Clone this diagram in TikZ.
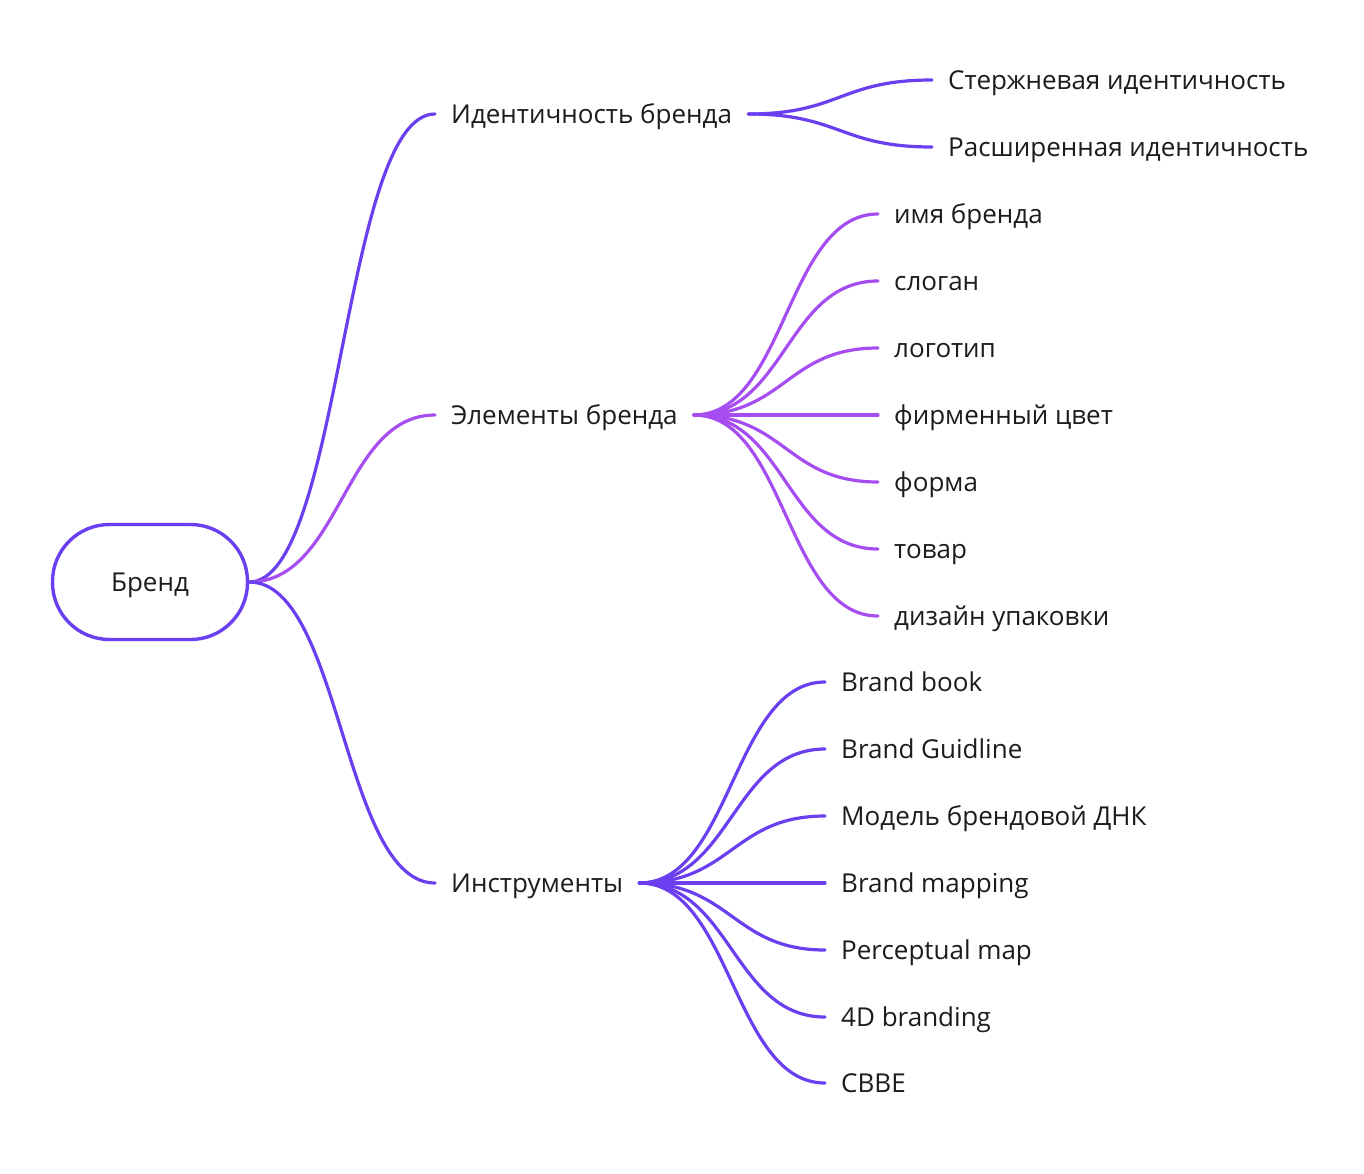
\documentclass[tikz,border=0pt]{standalone}
\usepackage{fontspec}
\setmainfont{Open Sans}
\definecolor{violetA}{HTML}{6B3FF0}
\definecolor{violetB}{HTML}{A64DF2}
\definecolor{ink}{HTML}{1C1C1C}
\begin{document}
\begin{tikzpicture}[x=1pt,y=-1pt,
  lbl/.style={anchor=west,inner xsep=16pt,inner ysep=0pt,text height=18.6pt,text depth=0pt,text=ink,font=\fontsize{26}{30}\selectfont},
  link/.style={line width=3.2pt,line cap=round,draw=#1},
  link/.default=violetA,
  rootbox/.style={draw=violetA,line width=3.4pt,rounded corners=57pt,minimum width=195pt,minimum height=115pt,text=ink,text height=18.6pt,text depth=0pt,font=\fontsize{26}{30}\selectfont,fill=white}]
\useasboundingbox[fill=white] (0,0) rectangle (1364,1174);
\node[rootbox] (root) at (150,582) {Бренд};
% level 1
\node[lbl] (id) at (435,114) {Идентичность бренда};
\node[lbl] (el) at (435,415) {Элементы бренда};
\node[lbl] (tools) at (435,883) {Инструменты};
% identity children
\node[lbl] (core) at (932,80) {Стержневая идентичность};
\node[lbl] (ext) at (932,147) {Расширенная идентичность};
% elements children
\node[lbl] (e1) at (878,214) {имя бренда};
\node[lbl] (e2) at (878,281) {слоган};
\node[lbl] (e3) at (878,348) {логотип};
\node[lbl] (e4) at (878,415) {фирменный цвет};
\node[lbl] (e5) at (878,482) {форма};
\node[lbl] (e6) at (878,549) {товар};
\node[lbl] (e7) at (878,616) {дизайн упаковки};
% tools children
\node[lbl] (t1) at (825,682) {Brand book};
\node[lbl] (t2) at (825,749) {Brand Guidline};
\node[lbl] (t3) at (825,816) {Модель брендовой ДНК};
\node[lbl] (t4) at (825,883) {Brand mapping};
\node[lbl] (t5) at (825,950) {Perceptual map};
\node[lbl] (t6) at (825,1017) {4D branding};
\node[lbl] (t7) at (825,1083) {CBBE};
% connectors
\draw[link] (root.east) .. controls +(92,0) and +(-92,0) .. (id.west);
\draw[link=violetB] (root.east) .. controls +(92,0) and +(-92,0) .. (el.west);
\draw[link] (root.east) .. controls +(92,0) and +(-92,0) .. (tools.west);
\foreach \c in {core,ext}
  \draw[link] (id.east) .. controls +(92,0) and +(-92,0) .. (\c.west);
\foreach \c in {e1,e2,e3,e4,e5,e6,e7}
  \draw[link=violetB] (el.east) .. controls +(92,0) and +(-92,0) .. (\c.west);
\foreach \c in {t1,t2,t3,t4,t5,t6,t7}
  \draw[link] (tools.east) .. controls +(92,0) and +(-92,0) .. (\c.west);
\end{tikzpicture}
\end{document}
